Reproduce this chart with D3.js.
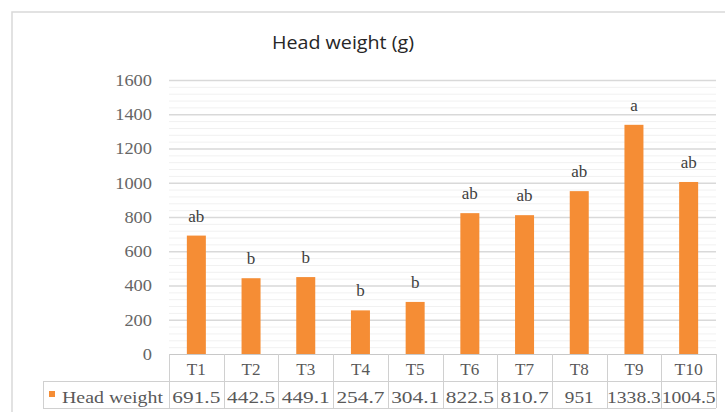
<!DOCTYPE html>
<html><head><meta charset="utf-8">
<script src="https://cdn.jsdelivr.net/npm/d3@7"></script>
<style>body{margin:0;background:#fff}svg{display:block}</style>
</head><body>
<script>
const categories = ["T1","T2","T3","T4","T5","T6","T7","T8","T9","T10"];
const values = [691.5,442.5,449.1,254.7,304.1,822.5,810.7,951,1338.3,1004.5];
const valueLabels = ["691.5","442.5","449.1","254.7","304.1","822.5","810.7","951","1338.3","1004.5"];
const letters = ["ab","b","b","b","b","ab","ab","ab","a","ab"];
const yTicks = [0,200,400,600,800,1000,1200,1400,1600];
const minorTicks = d3.range(0,1601,40);
const seriesName = "Head weight";
const title = "Head weight (g)";

(function(){
const W=725,H=412;
const svg=d3.select("body").append("svg").attr("width",W).attr("height",H);
const serif="'Liberation Serif','DejaVu Serif',serif";
const sans="'Open Sans','Liberation Sans',sans-serif";

svg.append("rect").attr("x",12).attr("y",12).attr("width",W+20).attr("height",H+20)
  .attr("fill","none").attr("stroke","#d9d9d9").attr("stroke-width",1.5);

const pl=169,pr=716,pt=80,pb=354;
const x=d3.scaleBand().domain(categories).range([pl,pr]);
const y=d3.scaleLinear().domain([0,1600]).range([pb,pt]);

svg.append("text").attr("x",343).attr("y",49).attr("text-anchor","middle")
  .attr("font-family",sans).attr("font-size",18).attr("fill","#262626")
  .attr("textLength",142).attr("lengthAdjust","spacingAndGlyphs").text(title);

svg.append("g").selectAll("line").data(minorTicks.filter(d=>d%200!==0)).join("line")
  .attr("x1",pl).attr("x2",pr).attr("y1",d=>y(d)+0.5).attr("y2",d=>y(d)+0.5)
  .attr("stroke","#f1f1f1").attr("stroke-width",1);
svg.append("g").selectAll("line").data(yTicks.filter(d=>d>0)).join("line")
  .attr("x1",pl).attr("x2",pr).attr("y1",d=>y(d)+0.5).attr("y2",d=>y(d)+0.5)
  .attr("stroke","#d9d9d9").attr("stroke-width",1.3);

const ya=svg.append("g").attr("transform",`translate(${pl},0)`)
  .call(d3.axisLeft(y).tickValues(yTicks).tickFormat(d3.format("d")).tickSize(0).tickPadding(17));
ya.select(".domain").remove();
ya.selectAll("text").attr("font-family",serif).attr("font-size",17).attr("fill","#666")
  .attr("textLength",function(){return this.textContent.length*9.2;}).attr("lengthAdjust","spacingAndGlyphs");

const bw=19;
svg.append("g").selectAll("rect").data(values).join("rect")
  .attr("x",(d,i)=>x(categories[i])+x.bandwidth()/2-bw/2)
  .attr("y",d=>y(d)).attr("width",bw).attr("height",d=>pb-y(d))
  .attr("fill","#F58D35");

svg.append("g").selectAll("text").data(values).join("text")
  .attr("x",(d,i)=>x(categories[i])+x.bandwidth()/2)
  .attr("y",d=>y(d)-14).attr("text-anchor","middle")
  .attr("font-family",serif).attr("font-size",17).attr("fill","#404040")
  .text((d,i)=>letters[i]);

const r1t=354,r1b=381,r2b=408,legL=43;
const tbl=svg.append("g").attr("stroke","#d0d0d0").attr("stroke-width",1);
tbl.append("line").attr("x1",pl).attr("x2",pr).attr("y1",r1t+0.5).attr("y2",r1t+0.5).attr("stroke","#c8c8c8");
tbl.append("line").attr("x1",legL).attr("x2",pr).attr("y1",r1b+0.5).attr("y2",r1b+0.5);
tbl.append("line").attr("x1",legL).attr("x2",pr).attr("y1",r2b+0.5).attr("y2",r2b+0.5);
tbl.append("line").attr("x1",legL+0.5).attr("x2",legL+0.5).attr("y1",r1b).attr("y2",r2b);
const edges=categories.map(c=>x(c)).concat([pr]);
tbl.selectAll(".v").data(edges).join("line")
  .attr("x1",d=>Math.round(d)+0.5).attr("x2",d=>Math.round(d)+0.5).attr("y1",r1t).attr("y2",r2b);

svg.append("g").selectAll("text").data(categories).join("text")
  .attr("x",d=>x(d)+x.bandwidth()/2).attr("y",375).attr("text-anchor","middle")
  .attr("font-family",serif).attr("font-size",17).attr("fill","#595959")
  .attr("textLength",d=>d.length*9.5).attr("lengthAdjust","spacingAndGlyphs").text(d=>d);
svg.append("g").selectAll("text").data(valueLabels).join("text")
  .attr("x",(d,i)=>x(categories[i])+x.bandwidth()/2).attr("y",403).attr("text-anchor","middle")
  .attr("font-family",serif).attr("font-size",17).attr("fill","#595959")
  .attr("textLength",d=>Math.min(d.length*9.6,54)).attr("lengthAdjust","spacingAndGlyphs").text(d=>d);

svg.append("rect").attr("x",49).attr("y",391).attr("width",6).attr("height",6).attr("fill","#F58D35");
svg.append("text").attr("x",62).attr("y",403).attr("font-family",serif).attr("font-size",17)
  .attr("fill","#595959").attr("textLength",101).attr("lengthAdjust","spacingAndGlyphs").text(seriesName);
})();
</script>
</body></html>
